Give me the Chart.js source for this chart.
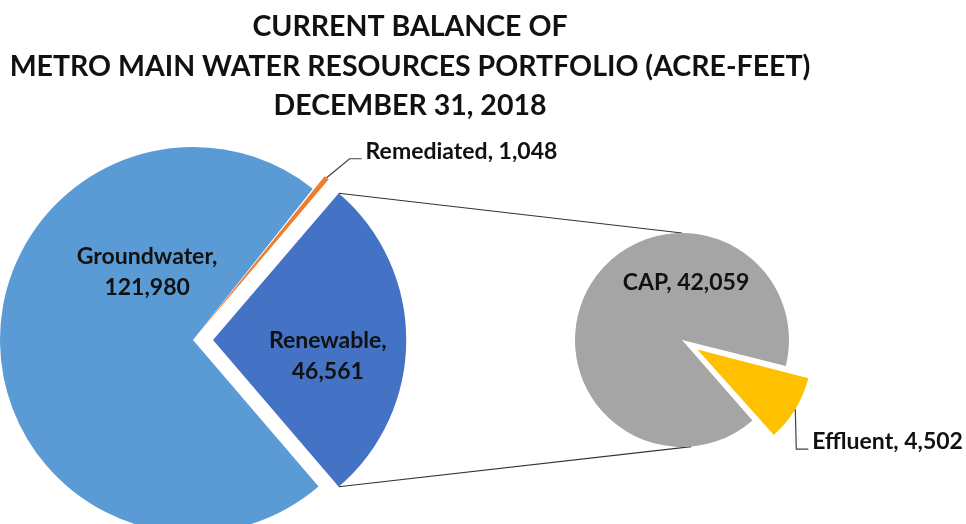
<!DOCTYPE html>
<html>
<head>
<meta charset="utf-8">
<script src="https://cdn.jsdelivr.net/npm/chart.js@4.4.1/dist/chart.umd.min.js"></script>
<style>
  body { margin: 0; background: #fff; }
  #wrap { position: relative; width: 966px; height: 524px; overflow: hidden; }
  #wrap canvas { position: absolute; left: 0; top: 0; }
</style>
</head>
<body>
<div id="wrap">
  <canvas id="mainPie" width="966" height="524"></canvas>
  <canvas id="subPie" width="966" height="524"></canvas>
</div>
<script>
// values (acre-feet)
var titleLines = ['CURRENT BALANCE OF', 'METRO MAIN WATER RESOURCES PORTFOLIO (ACRE-FEET)', 'DECEMBER 31, 2018'];
var mainLabels = ['Renewable', 'Groundwater', 'Remediated'];
var mainValues = [46561, 121980, 1048];
var mainColors = ['#4472C4', '#5B9BD5', '#ED7D31'];
var subLabels = ['Effluent', 'CAP'];
var subValues = [4502, 42059];
var subColors = ['#FFC000', '#A5A5A5'];

var FONT = 'Lato, "Open Sans", sans-serif';
var TEXT = '#111111';

function fmt(v) { return v.toLocaleString('en-US'); }
function sum(a) { return a.reduce(function (s, v) { return s + v; }, 0); }

// where the arc really sits once its offset is applied (Chart.js moves it by offset/4)
function arcGeom(arc) {
  var mid = (arc.startAngle + arc.endAngle) / 2;
  var off = (arc.options.offset || 0) / 4;
  var fix = 1 - Math.sin(Math.min(Math.PI, arc.endAngle - arc.startAngle));
  return {
    x: arc.x + Math.cos(mid) * off,
    y: arc.y + Math.sin(mid) * off,
    r: arc.outerRadius + off * fix,
    mid: mid
  };
}

// label placement: inside labels by polar position, outside ones with a leader
var labelPlace = {
  Groundwater: { inside: true, ang: -124, dist: 0.425 },
  Renewable: { inside: true, ang: 8, dist: 0.60 },
  CAP: { inside: true, ang: -86, dist: 0.54, oneLine: true },
  Remediated: { inside: false, leg: [23, -19], run: 12 },
  Effluent: { inside: false, leg: [1, 40], run: 12 }
};

var sliceLabels = {
  id: 'sliceLabels',
  afterDatasetsDraw: function (chart) {
    var ctx = chart.ctx;
    var labels = chart.data.labels;
    var values = chart.data.datasets[0].data;
    var meta = chart.getDatasetMeta(0);
    ctx.save();
    ctx.font = 'bold 23px ' + FONT;
    ctx.fillStyle = TEXT;
    meta.data.forEach(function (arc, i) {
      var p = labelPlace[labels[i]];
      var g = arcGeom(arc);
      if (p.inside) {
        var a = p.ang * Math.PI / 180;
        var cx = g.x + Math.cos(a) * g.r * p.dist;
        var cy = g.y + Math.sin(a) * g.r * p.dist;
        ctx.textAlign = 'center';
        ctx.textBaseline = 'middle';
        if (p.oneLine) {
          ctx.fillText(labels[i] + ', ' + fmt(values[i]), cx, cy);
        } else {
          ctx.fillText(labels[i] + ',', cx, cy - 15.5);
          ctx.fillText(fmt(values[i]), cx, cy + 15.5);
        }
      } else {
        var ex = g.x + Math.cos(g.mid) * g.r;
        var ey = g.y + Math.sin(g.mid) * g.r;
        var kx = ex + p.leg[0], ky = ey + p.leg[1];
        ctx.strokeStyle = '#404040';
        ctx.lineWidth = 1.2;
        ctx.beginPath();
        ctx.moveTo(ex, ey);
        ctx.lineTo(kx, ky);
        ctx.lineTo(kx + p.run, ky);
        ctx.stroke();
        ctx.textAlign = 'left';
        ctx.textBaseline = 'alphabetic';
        ctx.fillText(labels[i] + ', ' + fmt(values[i]), kx + p.run + 4, ky);
      }
    });
    ctx.restore();
  }
};

var titleText = {
  id: 'titleText',
  afterDraw: function (chart) {
    var ctx = chart.ctx;
    ctx.save();
    ctx.font = 'bold 28.5px ' + FONT;
    ctx.fillStyle = TEXT;
    ctx.textAlign = 'center';
    ctx.textBaseline = 'alphabetic';
    titleLines.forEach(function (t, i) {
      ctx.fillText(t, 410, 36 + i * 39.5);
    });
    ctx.restore();
  }
};

var mainChart = new Chart(document.getElementById('mainPie'), {
  type: 'pie',
  data: {
    labels: mainLabels,
    datasets: [{
      data: mainValues,
      backgroundColor: mainColors,
      borderWidth: 0,
      offset: [80, 0, 35],
      clip: false
    }]
  },
  options: {
    responsive: false,
    animation: false,
    events: [],
    rotation: 90 - 180 * mainValues[0] / sum(mainValues),
    radius: 193,
    layout: { padding: { left: 0, right: 580, top: 156, bottom: 0 } },
    plugins: { legend: { display: false }, tooltip: { enabled: false } }
  },
  plugins: [sliceLabels, titleText]
});

// lines joining the Renewable slice to the breakdown pie
var connectors = {
  id: 'connectors',
  beforeDatasetsDraw: function (chart) {
    var a0 = mainChart.getDatasetMeta(0).data[0];
    var src = arcGeom(a0);
    var dst = chart.getDatasetMeta(0).data[0];
    var r = dst.outerRadius;
    var ctx = chart.ctx;
    ctx.save();
    ctx.strokeStyle = '#333333';
    ctx.lineWidth = 1.2;
    ctx.beginPath();
    ctx.moveTo(src.x + Math.cos(a0.startAngle) * src.r, src.y + Math.sin(a0.startAngle) * src.r);
    ctx.lineTo(dst.x, dst.y - r);
    ctx.moveTo(src.x + Math.cos(a0.endAngle) * src.r, src.y + Math.sin(a0.endAngle) * src.r);
    ctx.lineTo(dst.x + Math.cos(85 * Math.PI / 180) * r, dst.y + Math.sin(85 * Math.PI / 180) * r);
    ctx.stroke();
    ctx.restore();
  }
};

var subChart = new Chart(document.getElementById('subPie'), {
  type: 'pie',
  data: {
    labels: subLabels,
    datasets: [{
      data: subValues,
      backgroundColor: subColors,
      borderWidth: 0,
      offset: [72, 0],
      clip: false
    }]
  },
  options: {
    responsive: false,
    animation: false,
    events: [],
    rotation: 104,
    radius: 107,
    layout: { padding: { left: 564, right: 166, top: 220, bottom: 64 } },
    plugins: { legend: { display: false }, tooltip: { enabled: false } }
  },
  plugins: [connectors, sliceLabels]
});
</script>
</body>
</html>
